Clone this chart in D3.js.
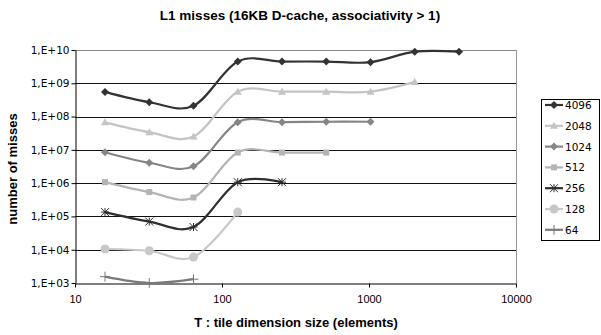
<!DOCTYPE html>
<html>
<head>
<meta charset="utf-8">
<script src="https://cdn.jsdelivr.net/npm/d3@7"></script>
<style>
  body { margin: 0; background: #fff; }
  text { font-family: Arial, "Liberation Sans", sans-serif; }
</style>
</head>
<body>
<div id="chart"></div>
<script>
const tileSizes = [16, 32, 64, 128, 256, 512, 1024, 2048, 4096];
const seriesNames = ['4096', '2048', '1024', '512', '256', '128', '64'];
const misses4096 = [5.5e8, 2.7e8, 2.1e8, 4.5e9, 4.5e9, 4.5e9, 4.3e9, 8.9e9, 8.9e9];
const misses2048 = [6.7e7, 3.4e7, 2.5e7, 5.6e8, 5.6e8, 5.6e8, 5.6e8, 1.1e9];
const misses1024 = [8.5e6, 4.1e6, 3.2e6, 6.8e7, 6.8e7, 7e7, 7e7];
const misses512 = [1.07e6, 5.4e5, 3.7e5, 8.3e6, 8.3e6, 8.3e6];
const misses256 = [1.35e5, 7e4, 4.8e4, 1.07e6, 1.07e6];
const misses128 = [1.05e4, 9.3e3, 6e3, 1.35e5];
const misses64 = [1.55e3, 1e3, 1.3e3];
const yTicks = [1e3, 1e4, 1e5, 1e6, 1e7, 1e8, 1e9, 1e10];
const xTicks = [10, 100, 1000, 10000];

const seriesValues = [misses4096, misses2048, misses1024, misses512, misses256, misses128, misses64];
const styles = [
  { color: '#333333', marker: 'diamond' },
  { color: '#c4c4c4', marker: 'triangle' },
  { color: '#858585', marker: 'diamond' },
  { color: '#b4b4b4', marker: 'square' },
  { color: '#2e2e2e', marker: 'star' },
  { color: '#c8c8c8', marker: 'circle' },
  { color: '#7a7a7a', marker: 'plus' }
];

const W = 601, H = 335;
const svg = d3.select('#chart').append('svg').attr('width', W).attr('height', H);

const x = d3.scaleLog().domain([10, 10000]).range([75, 516]);
const y = d3.scaleLog().domain([1e3, 1e10]).range([283, 50]);

// grid
svg.append('g').selectAll('line').data(yTicks.slice(1)).join('line')
  .attr('x1', 75).attr('x2', 516)
  .attr('y1', d => Math.round(y(d)) + 0.5).attr('y2', d => Math.round(y(d)) + 0.5)
  .attr('stroke', d => d === 1e10 ? '#888' : '#111').attr('stroke-width', 1);
svg.append('line').attr('x1', 516.5).attr('x2', 516.5).attr('y1', 50).attr('y2', 283)
  .attr('stroke', '#999');

// axes
svg.append('g').attr('transform', 'translate(75.5,0)')
  .call(d3.axisLeft(y).tickValues(yTicks).tickSize(4).tickSizeOuter(0)
    .tickFormat(d => '1,E+' + String(Math.round(Math.log10(d))).padStart(2, '0')))
  .call(g => g.select('.domain').attr('stroke', '#000'))
  .call(g => g.selectAll('.tick line').attr('stroke', '#000'))
  .call(g => g.selectAll('.tick text').attr('fill', '#000').attr('x', -6)
    .style('font-size', '10.5px').style('font-family', '"DejaVu Sans", sans-serif'));

svg.append('g').attr('transform', 'translate(0,283.5)')
  .call(d3.axisBottom(x).tickValues(xTicks).tickSize(4).tickSizeOuter(0).tickFormat(d3.format('d')))
  .call(g => g.select('.domain').attr('stroke', '#000'))
  .call(g => g.selectAll('.tick line').attr('stroke', '#000'))
  .call(g => g.selectAll('.tick text').attr('fill', '#000').attr('y', 12)
    .style('font-size', '11px').style('font-family', 'Arial, "Liberation Sans", sans-serif'));

// titles
svg.append('text').attr('x', 300).attr('y', 20).attr('text-anchor', 'middle')
  .style('font-size', '13.5px').style('font-weight', 'bold')
  .text('L1 misses (16KB D-cache, associativity > 1)');
svg.append('text').attr('x', 296).attr('y', 327).attr('text-anchor', 'middle')
  .style('font-size', '13px').style('font-weight', 'bold')
  .text('T : tile dimension size (elements)');
svg.append('text').attr('transform', 'translate(17,169) rotate(-90)').attr('text-anchor', 'middle')
  .style('font-size', '13px').style('font-weight', 'bold')
  .text('number of misses');

function drawMarker(g, type, cx, cy, color) {
  if (type === 'diamond') {
    g.append('path').attr('d', `M${cx},${cy - 4}L${cx + 4},${cy}L${cx},${cy + 4}L${cx - 4},${cy}Z`).attr('fill', color);
  } else if (type === 'triangle') {
    g.append('path').attr('d', `M${cx},${cy - 4}L${cx + 4},${cy + 3}L${cx - 4},${cy + 3}Z`).attr('fill', color);
  } else if (type === 'square') {
    g.append('rect').attr('x', cx - 3).attr('y', cy - 3).attr('width', 6).attr('height', 6).attr('fill', color);
  } else if (type === 'circle') {
    g.append('circle').attr('cx', cx).attr('cy', cy).attr('r', 4.5).attr('fill', color);
  } else if (type === 'star') {
    g.append('path').attr('d', `M${cx - 4},${cy - 4}L${cx + 4},${cy + 4}M${cx - 4},${cy + 4}L${cx + 4},${cy - 4}M${cx},${cy - 4}L${cx},${cy + 4}M${cx - 4},${cy}L${cx + 4},${cy}`)
      .attr('stroke', color).attr('stroke-width', 1).attr('fill', 'none');
  } else if (type === 'plus') {
    g.append('path').attr('d', `M${cx - 5},${cy}L${cx + 5},${cy}M${cx},${cy - 5}L${cx},${cy + 5}`)
      .attr('stroke', color).attr('stroke-width', 1).attr('fill', 'none');
  }
}

const line = d3.line().x(d => x(d[0])).y(d => y(d[1])).curve(d3.curveCardinal.tension(0));

// draw from back (64) to front (4096)
for (let i = seriesValues.length - 1; i >= 0; i--) {
  const pts = seriesValues[i].map((v, j) => [tileSizes[j], v]);
  const st = styles[i];
  const g = svg.append('g');
  g.append('path').datum(pts).attr('d', line).attr('fill', 'none')
    .attr('stroke', st.color).attr('stroke-width', 2.2);
  pts.forEach(p => drawMarker(g, st.marker, x(p[0]), y(p[1]), st.color));
}

// legend
const lg = svg.append('g');
lg.append('rect').attr('x', 541.5).attr('y', 99.5).attr('width', 58).attr('height', 141)
  .attr('fill', '#fff').attr('stroke', '#000');
seriesNames.forEach((name, i) => {
  const ly = 105 + i * 20.8;
  lg.append('line').attr('x1', 545).attr('x2', 563).attr('y1', ly).attr('y2', ly)
    .attr('stroke', styles[i].color).attr('stroke-width', 2.2);
  drawMarker(lg, styles[i].marker, 554, ly, styles[i].color);
  lg.append('text').attr('x', 565).attr('y', ly + 4)
    .style('font-size', '10.5px').style('font-family', '"DejaVu Sans", sans-serif').text(name);
});
</script>
</body>
</html>
